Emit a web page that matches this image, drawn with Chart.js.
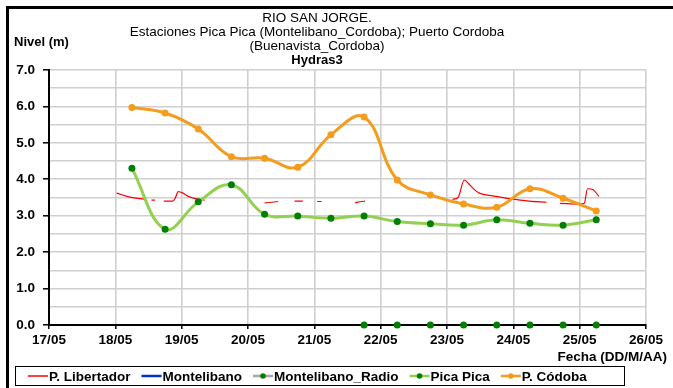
<!DOCTYPE html>
<html>
<head>
<meta charset="utf-8">
<script src="https://cdn.jsdelivr.net/npm/chart.js@4.4.1/dist/chart.umd.min.js"></script>
<style>
  html, body { margin: 0; padding: 0; background: #fff; }
  #wrap { width: 673px; height: 388px; }
</style>
</head>
<body>
<div id="wrap"><canvas id="nivelChart" width="673" height="388"></canvas></div>
<script>
// Lecturas 06:00 y 18:00 (Pica Pica y P. Códoba)
const twiceDaily = ['18/05 06:00', '18/05 18:00', '19/05 06:00', '19/05 18:00', '20/05 06:00',
                    '20/05 18:00', '21/05 06:00', '21/05 18:00', '22/05 06:00', '22/05 18:00',
                    '23/05 06:00', '23/05 18:00', '24/05 06:00', '24/05 18:00', '25/05 06:00'];
const picaPica = [4.30, 2.63, 3.38, 3.85, 3.04, 2.99, 2.93, 2.99, 2.84, 2.78, 2.74, 2.89, 2.79, 2.74, 2.89];
const pCodoba  = [5.97, 5.82, 5.38, 4.62, 4.58, 4.33, 5.22, 5.71, 3.98, 3.57, 3.32, 3.23, 3.74, 3.48, 3.13];

// Montelibano_Radio
const radioTimes = ['21/05 18:00', '22/05 06:00', '22/05 18:00', '23/05 06:00',
                    '23/05 18:00', '24/05 06:00', '24/05 18:00', '25/05 06:00'];
const radioLevel = [0, 0, 0, 0, 0, 0, 0, 0];

// P. Libertador (null = sin dato)
const libTimes = ['18/05 00:30', '18/05 05:15', '18/05 10:40', '18/05 12:00', '18/05 13:05', '18/05 14:20',
                  '18/05 16:00', '18/05 17:30', '18/05 20:50', '18/05 21:40', '18/05 22:45', '19/05 00:30',
                  '19/05 02:20', '19/05 05:15', '19/05 08:20', '19/05 12:00', '20/05 06:00', '20/05 08:30',
                  '20/05 10:50', '20/05 13:00', '20/05 16:50', '20/05 19:50', '20/05 22:00', '21/05 01:00',
                  '21/05 02:40', '21/05 08:00', '21/05 14:40', '21/05 17:00', '21/05 18:20', '21/05 20:00',
                  '23/05 02:00', '23/05 04:00', '23/05 06:15', '23/05 08:10', '23/05 10:00', '23/05 11:45',
                  '23/05 17:45', '23/05 22:30', '24/05 05:45', '24/05 12:00', '24/05 14:00', '24/05 16:50',
                  '25/05 00:00', '25/05 01:40', '25/05 02:50', '25/05 04:50', '25/05 07:00'];
const libLevel = [3.62, 3.51, 3.45, null, 3.43, 3.43,
                  null, 3.40, 3.40, 3.48, 3.66, 3.62,
                  3.53, 3.46, 3.43, null, 3.35, 3.37,
                  3.39, null, 3.40, 3.40, null, 3.39,
                  3.39, null, 3.35, 3.39, 3.40, null,
                  3.45, 3.50, 3.98, 3.85, 3.71, 3.62,
                  3.53, 3.47, 3.40, 3.37, null, 3.34,
                  3.32, 3.34, 3.74, 3.71, 3.53];

const dayTicks = ['17/05', '18/05', '19/05', '20/05', '21/05', '22/05', '23/05', '24/05', '25/05', '26/05'];

const titleLines = ['RIO SAN JORGE.', 'Estaciones Pica Pica (Montelibano_Cordoba); Puerto Cordoba', '(Buenavista_Cordoba)'];
const subTitle = 'Hydras3';
const yTitle = 'Nivel (m)';
const xTitle = 'Fecha (DD/M/AA)';

const FONT = '"Liberation Sans", Arial, sans-serif';

// 'DD/MM HH:MM' -> día con fracción
function toDay(s) {
    const [d, t] = s.split(' ');
    const [hh, mm] = t.split(':').map(Number);
    return Number(d.split('/')[0]) + (hh + mm / 60) / 24;
}
function series(times, values) {
    return times.map((t, i) => ({ x: toDay(t), y: values[i] }));
}

// marco, títulos y leyenda
const decorPlugin = {
    id: 'decor',
    beforeDraw(chart) {
        const c = chart.ctx;
        c.save();
        c.fillStyle = '#fff';
        c.fillRect(0, 0, chart.width, chart.height);
        c.fillStyle = '#000';
        c.fillRect(6, 6, chart.width - 6, 3);
        c.fillRect(6, 6, 3, chart.height - 6);
        c.restore();
    },
    afterDraw(chart) {
        const c = chart.ctx;
        c.save();
        c.fillStyle = '#000';
        c.textBaseline = 'middle';
        c.textAlign = 'center';
        c.font = '13.5px ' + FONT;
        titleLines.forEach((t, i) => c.fillText(t, 317, 18 + i * 14));
        c.font = 'bold 13px ' + FONT;
        c.fillText(subTitle, 317, 60);
        c.textAlign = 'left';
        c.fillText(yTitle, 14, 42);
        c.textAlign = 'right';
        c.font = 'bold 13.5px ' + FONT;
        c.fillText(xTitle, 667, 357);

        // leyenda
        c.strokeStyle = '#000';
        c.lineWidth = 1;
        c.strokeRect(15.5, 366.5, 609, 19);
        c.textAlign = 'left';
        c.font = 'bold 13.5px ' + FONT;
        let x = 28;
        const y = 376;
        chart.data.datasets.forEach(ds => {
            c.strokeStyle = ds.borderColor;
            c.lineWidth = Math.max(1.5, Math.min(ds.borderWidth, 2.5));
            c.beginPath();
            c.moveTo(x, y);
            c.lineTo(x + 20, y);
            c.stroke();
            if (ds.pointRadius > 0) {
                c.fillStyle = ds.pointBackgroundColor;
                c.beginPath();
                c.arc(x + 10, y, 2.8, 0, Math.PI * 2);
                c.fill();
            }
            c.fillStyle = '#000';
            c.fillText(ds.label, x + 21, y + 1);
            x += 21 + c.measureText(ds.label).width + 11;
        });
        c.restore();
    }
};

new Chart(document.getElementById('nivelChart'), {
    type: 'line',
    data: {
        datasets: [{
            label: 'P. Libertador',
            data: series(libTimes, libLevel),
            borderColor: '#FF0000',
            borderWidth: 1.2,
            pointRadius: 0,
            cubicInterpolationMode: 'monotone',
            spanGaps: false,
            order: 5
        }, {
            label: 'Montelibano',
            data: [],
            borderColor: '#0033CC',
            borderWidth: 2.5,
            pointRadius: 0,
            order: 4
        }, {
            label: 'Montelibano_Radio',
            data: series(radioTimes, radioLevel),
            borderColor: '#A6A6A6',
            borderWidth: 2.5,
            showLine: false,
            pointRadius: 3.5,
            pointBackgroundColor: '#008000',
            pointBorderColor: '#008000',
            pointBorderWidth: 0,
            order: 3
        }, {
            label: 'Pica Pica',
            data: series(twiceDaily, picaPica),
            borderColor: '#92D050',
            borderWidth: 3,
            tension: 0.4,
            pointRadius: 3.5,
            pointBackgroundColor: '#008000',
            pointBorderColor: '#008000',
            pointBorderWidth: 0,
            order: 2
        }, {
            label: 'P. Códoba',
            data: series(twiceDaily, pCodoba),
            borderColor: '#F39C1E',
            borderWidth: 3,
            tension: 0.4,
            pointRadius: 3.5,
            pointBackgroundColor: '#F39C1E',
            pointBorderColor: '#F39C1E',
            pointBorderWidth: 0,
            order: 1
        }]
    },
    options: {
        responsive: false,
        animation: false,
        events: [],
        clip: false,
        layout: { padding: { left: 0, top: 70, right: 27, bottom: 0 } },
        plugins: {
            legend: { display: false },
            tooltip: { enabled: false },
            title: { display: false }
        },
        scales: {
            x: {
                type: 'linear',
                min: 17,
                max: 26,
                afterFit: scale => { scale.height = 63; },
                grid: { color: '#CFCFCF', lineWidth: 1.6, tickLength: 4, tickColor: '#000', tickWidth: 1.5 },
                border: { color: '#000', width: 2 },
                ticks: {
                    stepSize: 1,
                    autoSkip: false,
                    maxRotation: 0,
                    padding: 3,
                    color: '#000',
                    font: { family: FONT, size: 13.5, weight: 'bold' },
                    callback: (v, i) => dayTicks[i]
                }
            },
            y: {
                min: 0,
                max: 7,
                afterFit: scale => { scale.width = 49; },
                grid: {
                    color: '#CFCFCF',
                    lineWidth: 1.6,
                    tickLength: 6,
                    tickWidth: 1.5,
                    tickColor: ctx => (ctx.tick && Number.isInteger(ctx.tick.value)) ? '#000' : 'rgba(0,0,0,0)'
                },
                border: { color: '#000', width: 2 },
                ticks: {
                    stepSize: 0.5,
                    autoSkip: false,
                    padding: 8,
                    color: '#000',
                    font: { family: FONT, size: 13.5, weight: 'bold' },
                    callback: v => Number.isInteger(v) ? v.toFixed(1) : ''
                }
            }
        }
    },
    plugins: [decorPlugin]
});
</script>
</body>
</html>
